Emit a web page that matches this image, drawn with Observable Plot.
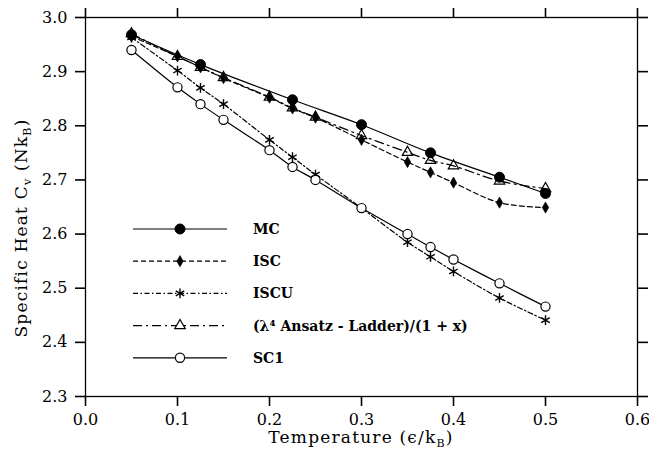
<!DOCTYPE html>
<html><head><meta charset="utf-8">
<script src="https://cdn.jsdelivr.net/npm/d3@7"></script>
<script src="https://cdn.jsdelivr.net/npm/@observablehq/plot@0.6"></script>
<style>
body{margin:0;background:#fff;}
#chart{width:649px;height:455px;}
</style></head><body><div id="chart"></div>
<script>
// ---- data ----
const temps   = [0.05, 0.1, 0.125, 0.15, 0.2, 0.225, 0.25, 0.3, 0.35, 0.375, 0.4, 0.45, 0.5];
const mcTemps = [0.05, 0.125, 0.225, 0.3, 0.375, 0.45, 0.5];
const mcCv     = [2.968, 2.913, 2.848, 2.802, 2.750, 2.705, 2.675];
const iscCv    = [2.965, 2.928, 2.908, 2.888, 2.852, 2.832, 2.815, 2.774, 2.733, 2.714, 2.695, 2.658, 2.649];
const iscuCv   = [2.963, 2.902, 2.870, 2.840, 2.774, 2.742, 2.710, 2.648, 2.585, 2.558, 2.531, 2.482, 2.441];
const ansatzCv = [2.970, 2.928, 2.908, 2.889, 2.853, 2.833, 2.816, 2.782, 2.751, 2.736, 2.726, 2.698, 2.684];
const sc1Cv    = [2.940, 2.871, 2.840, 2.811, 2.755, 2.724, 2.700, 2.648, 2.600, 2.576, 2.553, 2.509, 2.466];
const seriesNames = ["MC", "ISC", "ISCU", "(λ⁴ Ansatz - Ladder)/(1 + x)", "SC1"];
const xTicks = [0.0, 0.1, 0.2, 0.3, 0.4, 0.5, 0.6];
const yTicks = [2.3, 2.4, 2.5, 2.6, 2.7, 2.8, 2.9, 3.0];

// ---- styles ----
const FONT = '"DejaVu Serif", serif';
const styles = [
  {symbol: "circle",   r: 5,   fill: "black", stroke: "black", sw: 1,   dash: null},
  {symbol: "diamond",  r: 3.4, fill: "black", stroke: "black", sw: 0.6, dash: "5,3"},
  {symbol: "asterisk", r: 4.6, fill: "none",  stroke: "black", sw: 1.4, dash: "5,2.5,1.5,2.5"},
  {symbol: "triangle2",r: 5,   fill: "none",  stroke: "black", sw: 1.2, dash: "9,4,2,4"},
  {symbol: "circle",   r: 4.6, fill: "white", stroke: "black", sw: 1.2, dash: null}
];
const xsBySeries = [mcTemps, temps, temps, temps, temps];
const ysBySeries = [mcCv, iscCv, iscuCv, ansatzCv, sc1Cv];
const series = seriesNames.map((name, k) => ({
  name, ...styles[k],
  data: xsBySeries[k].map((x, i) => ({x, y: ysBySeries[k][i]}))
}));

const marks = [];
for (const s of series) {
  marks.push(Plot.line(s.data, {x: "x", y: "y", stroke: "black", strokeWidth: 1.2,
    strokeDasharray: s.dash, curve: "catmull-rom"}));
}
for (const s of series) {
  marks.push(Plot.dot(s.data, {x: "x", y: "y", symbol: s.symbol, r: s.r,
    fill: s.fill, stroke: s.stroke, strokeWidth: s.sw}));
}

const W = 649, H = 455, ML = 85, MR = 12, MT = 17, MB = 59, TICK = 10;
const tickStyle = {tickSize: TICK, label: null, stroke: "black", strokeWidth: 1.6, strokeOpacity: 1};
const chart = Plot.plot({
  width: W, height: H,
  marginLeft: ML, marginRight: MR, marginTop: MT, marginBottom: MB,
  style: {fontFamily: FONT, fontSize: "16px", color: "black", background: "white"},
  x: {domain: [0, 0.6]},
  y: {domain: [2.3, 3.0]},
  marks: [
    ...marks,
    Plot.frame({stroke: "black", strokeWidth: 1.3}),
    Plot.axisX({anchor: "bottom", ticks: xTicks, tickFormat: d => d.toFixed(1), tickPadding: 7, fontSize: 16, ...tickStyle}),
    Plot.axisX({anchor: "top", ticks: xTicks, tickFormat: () => "", ...tickStyle}),
    Plot.axisY({anchor: "left", ticks: yTicks, tickFormat: d => d.toFixed(1), tickPadding: 8, fontSize: 16, ...tickStyle}),
    Plot.axisY({anchor: "right", ticks: yTicks, tickFormat: () => "", ...tickStyle})
  ]
});
document.getElementById("chart").appendChild(chart);

const svg = d3.select(chart);

// axis titles
const xt = svg.append("text").attr("x", (ML + W - MR) / 2).attr("y", 443)
  .attr("text-anchor", "middle").attr("font-size", 17).attr("letter-spacing", 1.2)
  .attr("font-family", FONT).attr("fill", "black");
xt.append("tspan").text("Temperature (ϵ/k");
xt.append("tspan").attr("dy", 4).attr("font-size", 11).text("B");
xt.append("tspan").attr("dy", -4).text(")");

const yt = svg.append("text").attr("transform", "translate(27,228) rotate(-90)")
  .attr("text-anchor", "middle").attr("font-size", 17).attr("letter-spacing", 1.2)
  .attr("font-family", FONT).attr("fill", "black");
yt.append("tspan").text("Specific Heat C");
yt.append("tspan").attr("dy", 4).attr("font-size", 11).text("v");
yt.append("tspan").attr("dy", -4).text(" (Nk");
yt.append("tspan").attr("dy", 4).attr("font-size", 11).text("B");
yt.append("tspan").attr("dy", -4).text(")");

// legend
const lg = svg.append("g").attr("font-family", FONT).attr("text-anchor", "start");
const symMap = {circle: d3.symbolCircle, diamond: d3.symbolDiamond, asterisk: d3.symbolAsterisk, triangle2: d3.symbolTriangle2};
series.forEach((s, i) => {
  const yy = 229 + i * 32.2;
  lg.append("line").attr("x1", 133).attr("x2", 227).attr("y1", yy).attr("y2", yy)
    .attr("stroke", "black").attr("stroke-width", 1.2).attr("stroke-dasharray", s.dash);
  lg.append("path").attr("transform", `translate(180,${yy})`)
    .attr("d", d3.symbol(symMap[s.symbol], Math.PI * s.r * s.r)())
    .attr("fill", s.fill === "none" ? "white" : s.fill).attr("stroke", s.stroke).attr("stroke-width", s.sw);
  lg.append("text").attr("x", 253).attr("y", yy).attr("dy", "0.35em").attr("text-anchor", "start")
    .attr("font-size", 14).attr("font-weight", "bold").attr("fill", "black").text(s.name);
});
</script></body></html>
